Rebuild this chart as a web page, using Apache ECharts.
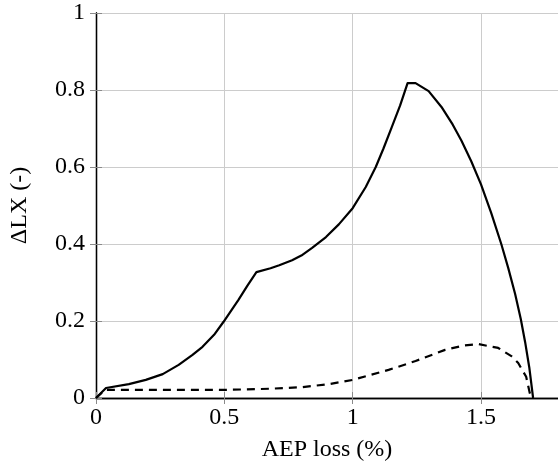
<!DOCTYPE html>
<html>
<head>
<meta charset="utf-8">
<script src="https://cdn.jsdelivr.net/npm/echarts@6/dist/echarts.min.js"></script>
<style>
  html, body { margin: 0; padding: 0; background: #fff; }
  #chart { width: 558px; height: 472px; }
</style>
</head>
<body>
<div id="chart"></div>
<script>
  // values (x = AEP loss %, y = delta LX)
  var solidX = [0, 0.039, 0.128, 0.194, 0.26, 0.322, 0.376, 0.415, 0.46, 0.497, 0.555, 0.59, 0.625,
    0.68, 0.714, 0.764, 0.8, 0.842, 0.896, 0.946, 1.0, 1.051, 1.09, 1.12, 1.152, 1.185, 1.214,
    1.245, 1.296, 1.346, 1.39, 1.424, 1.462, 1.5, 1.54, 1.579, 1.606, 1.633, 1.655, 1.672, 1.688, 1.703]
  var solidY = [0, 0.026, 0.036, 0.047, 0.062, 0.086, 0.112, 0.133, 0.164, 0.198, 0.255, 0.292, 0.327,
    0.337, 0.345, 0.358, 0.37, 0.39, 0.418, 0.451, 0.493, 0.548, 0.6, 0.648, 0.703, 0.76, 0.818,
    0.818, 0.797, 0.756, 0.71, 0.668, 0.615, 0.555, 0.48, 0.4, 0.338, 0.27, 0.205, 0.145, 0.08, 0]
  var dashX = [0, 0.035, 0.3, 0.5, 0.675, 0.8, 0.908, 1.0, 1.14, 1.245, 1.36, 1.43, 1.49, 1.567, 1.62, 1.645, 1.676, 1.69, 1.697]
  var dashY = [0, 0.021, 0.021, 0.021, 0.024, 0.028, 0.036, 0.047, 0.073, 0.096, 0.125, 0.136, 0.14, 0.13, 0.108, 0.091, 0.055, 0.013, 0]

  function pairs(xs, ys) {
    return xs.map(function (x, i) { return [x, ys[i]] })
  }

  var font = 'Liberation Serif'
  var tickStyle = { show: true, inside: true, length: 6, lineStyle: { color: '#8a8a8a', width: 1 } }
  var gridLine = { show: true, lineStyle: { color: '#cccccc', width: 1 } }

  var chart = echarts.init(document.getElementById('chart'))
  chart.setOption({
    animation: false,
    backgroundColor: '#fff',
    grid: { left: 96, right: -2, top: 13, bottom: 74 },
    xAxis: [{
      type: 'value',
      min: 0,
      max: 1.8,
      interval: 0.5,
      name: 'AEP loss (%)',
      nameLocation: 'middle',
      nameGap: 40,
      nameTextStyle: { fontFamily: font, fontSize: 24, color: '#000' },
      axisLine: { show: true, onZero: false, lineStyle: { color: '#000', width: 1.3 } },
      axisTick: tickStyle,
      splitLine: gridLine,
      axisLabel: {
        fontFamily: font, fontSize: 24, color: '#000', margin: 8,
        showMaxLabel: false
      }
    }, {
      type: 'value',
      position: 'top',
      min: 0,
      max: 1.8,
      interval: 0.5,
      axisLine: { show: true, lineStyle: { color: '#000', width: 1.3 } },
      axisTick: tickStyle,
      axisLabel: { show: false },
      splitLine: { show: false }
    }],
    yAxis: [{
      type: 'value',
      min: 0,
      max: 1,
      interval: 0.2,
      name: 'ΔLX (-)',
      nameLocation: 'middle',
      nameGap: 64,
      nameTextStyle: { fontFamily: font, fontSize: 24, color: '#000' },
      axisLine: { show: true, onZero: false, lineStyle: { color: '#000', width: 1.3 } },
      axisTick: tickStyle,
      splitLine: gridLine,
      axisLabel: {
        fontFamily: font, fontSize: 24, color: '#000', margin: 11,
        formatter: function (v) { return v === 0 || v === 1 ? String(v) : v.toFixed(1) }
      }
    }, {
      type: 'value',
      position: 'right',
      min: 0,
      max: 1,
      interval: 0.2,
      axisLine: { show: true, lineStyle: { color: '#000', width: 1.3 } },
      axisTick: tickStyle,
      axisLabel: { show: false },
      splitLine: { show: false }
    }],
    series: [{
      type: 'line',
      data: pairs(solidX, solidY),
      showSymbol: false,
      lineStyle: { color: '#000', width: 2.2, join: 'round' },
      z: 3
    }, {
      type: 'line',
      data: pairs(dashX, dashY),
      showSymbol: false,
      lineStyle: { color: '#000', width: 2.2, type: [8, 6] },
      z: 3
    }]
  })
</script>
</body>
</html>
